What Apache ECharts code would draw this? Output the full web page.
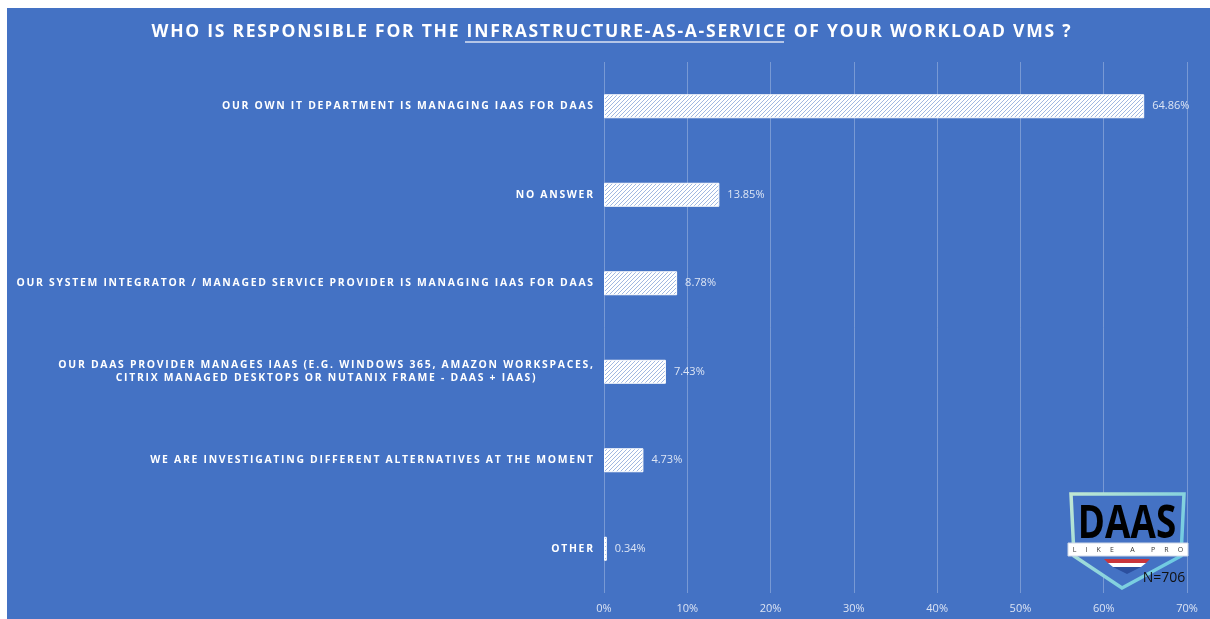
<!DOCTYPE html>
<html>
<head>
<meta charset="utf-8">
<script src="https://cdn.jsdelivr.net/npm/echarts@6/dist/echarts.min.js"></script>
<style>
html,body{margin:0;padding:0;background:#fff;}
#chart{width:1210px;height:619px;}
</style>
</head>
<body>
<div id="chart"></div>
<script>
const categories = [
  "OUR OWN IT DEPARTMENT IS MANAGING IAAS FOR DAAS",
  "NO ANSWER",
  "OUR SYSTEM INTEGRATOR / MANAGED SERVICE PROVIDER IS MANAGING IAAS FOR DAAS",
  "OUR DAAS PROVIDER MANAGES IAAS (E.G. WINDOWS 365, AMAZON WORKSPACES,\nCITRIX MANAGED DESKTOPS OR NUTANIX FRAME - DAAS + IAAS)",
  "WE ARE INVESTIGATING DIFFERENT ALTERNATIVES AT THE MOMENT",
  "OTHER"
];
const values = [64.86, 13.85, 8.78, 7.43, 4.73, 0.34];
const xTicks = [0, 10, 20, 30, 40, 50, 60, 70];
const titleText = "WHO IS RESPONSIBLE FOR THE INFRASTRUCTURE-AS-A-SERVICE OF YOUR WORKLOAD VMS ?";
const sampleNote = "N=706";

function spaced(s, sp){ return s.split('\n').map(l => l.split('').join(sp)).join('\n'); }

// hatch pattern
const pc = document.createElement('canvas');
pc.width = 4; pc.height = 4;
const pctx = pc.getContext('2d');
pctx.fillStyle = '#ffffff'; pctx.fillRect(0,0,4,4);
pctx.strokeStyle = 'rgba(68,114,196,0.5)'; pctx.lineWidth = 1;
pctx.beginPath();
pctx.moveTo(0,4); pctx.lineTo(4,0);
pctx.moveTo(-1,1); pctx.lineTo(1,-1);
pctx.moveTo(3,5); pctx.lineTo(5,3);
pctx.stroke();

const chart = echarts.init(document.getElementById('chart'), null, {renderer:'canvas'});
const BLUE = '#4472C4';
const option = {
  backgroundColor: '#ffffff',
  animation: false,
  grid: {left: 604, right: 23, top: 62, bottom: 26, containLabel: false},
  xAxis: {
    type: 'value', min: xTicks[0], max: xTicks[xTicks.length-1], interval: 10,
    axisLine: {show: false}, axisTick: {show: false},
    splitLine: {show: true, lineStyle: {color: 'rgba(255,255,255,0.28)', width: 1}},
    axisLabel: {formatter: '{value}%', color: '#dbe3f3', fontFamily: 'Open Sans', fontSize: 11, margin: 10}
  },
  yAxis: {
    type: 'category', data: categories, inverse: true,
    axisLine: {show: false}, axisTick: {show: false},
    axisLabel: {
      margin: 11,
      formatter: v => '{a|' + spaced(v, '\u2009').split('\n').join('}\n{a|') + '}',
      rich: {a: {color: '#ffffff', fontFamily: 'Open Sans', fontWeight: 'bold', fontSize: 10.4, align: 'center', lineHeight: 13}}
    }
  },
  series: [{
    type: 'bar', data: values, barWidth: 24,
    itemStyle: {color: {image: pc, repeat: 'repeat'}, borderColor: '#ffffff', borderWidth: 1},
    label: {show: true, position: 'right', distance: 8, formatter: p => p.value.toFixed(2) + '%',
            color: '#dde5f4', fontFamily: 'Open Sans', fontSize: 11}
  }],
  graphic: [
    {type: 'rect', z: -10, shape: {x: 7, y: 8, width: 1203, height: 611}, style: {fill: BLUE}},
    {type: 'text', z: 10, x: 611, y: 32,
     style: {text: spaced(titleText, '\u200A'), fill: '#ffffff', font: 'bold 17.5px "Open Sans"', align: 'center', verticalAlign: 'middle'}},
    {type: 'line', z: 10, shape: {x1: 465, y1: 42, x2: 784, y2: 42}, style: {stroke: '#dbe3f3', lineWidth: 1.5}},
    // logo
    {type: 'polygon', z: 10, shape: {points: [[1071,494],[1184,494],[1181,556],[1122,588],[1074,556]]},
     style: {stroke: {type:'linear', x:0,y:0,x2:1,y2:1, colorStops:[{offset:0,color:'#c2e8d2'},{offset:1,color:'#5cc3e6'}]}, lineWidth: 3.5, fill: BLUE}},
    {type: 'text', z: 11, x: 1127, y: 525, scaleX: 0.8,
     style: {text: 'DAAS', fill: '#000000', font: 'bold 46px "Open Sans"', align: 'center', verticalAlign: 'middle'}},
    {type: 'rect', z: 11, shape: {x: 1068, y: 543, width: 120, height: 13}, style: {fill: '#ffffff', stroke: '#cfd8e8', lineWidth: 1}},
    {type: 'text', z: 12, x: 1128, y: 550,
     style: {text: 'L     I     K     E         A         P     R     O', fill: '#333333', font: '7px "Open Sans"', align: 'center', verticalAlign: 'middle'}},
    {type: 'polygon', z: 11, shape: {points: [[1104,559],[1150,559],[1146,563],[1108,563]]}, style: {fill: '#c9353c'}},
    {type: 'polygon', z: 11, shape: {points: [[1108,563],[1146,563],[1141,567],[1113,567]]}, style: {fill: '#ffffff'}},
    {type: 'polygon', z: 11, shape: {points: [[1113,567],[1141,567],[1127,574]]}, style: {fill: '#2c4f9e'}},
    {type: 'text', z: 12, x: 1164, y: 578,
     style: {text: sampleNote, fill: '#111111', font: '14px "Open Sans"', align: 'center', verticalAlign: 'middle'}}
  ]
};
chart.setOption(option);
</script>
</body>
</html>
